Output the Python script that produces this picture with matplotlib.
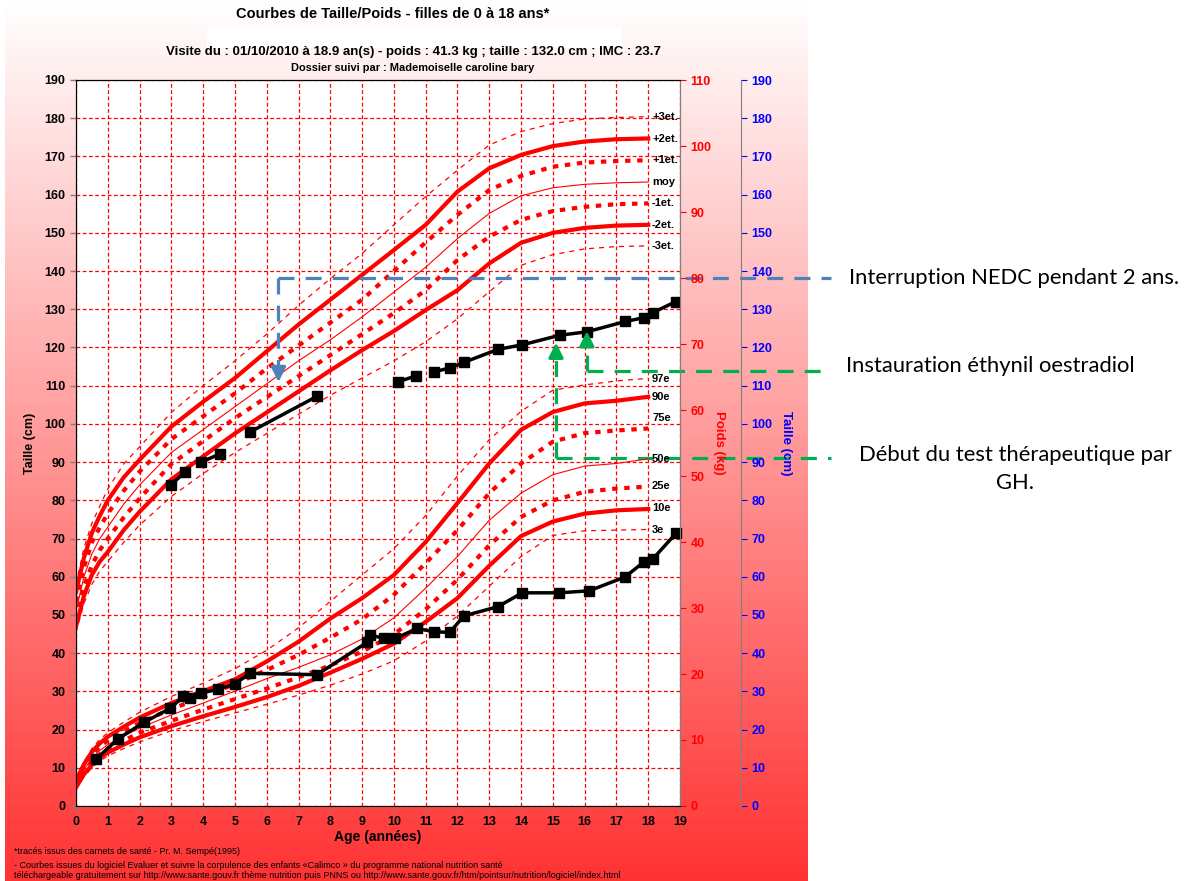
import numpy as np
import matplotlib
matplotlib.use('Agg')
import matplotlib.pyplot as plt
from matplotlib.patches import Rectangle

plt.rcParams['font.family'] = ['Liberation Sans', 'DejaVu Sans']

# ============================================================
# Données
# ============================================================
ages = [0, 0.25, 0.5, 0.75, 1, 1.5, 2, 3, 4, 5, 6, 7, 8, 9, 10, 11, 12, 13, 14, 15, 16, 17, 18]

# taille (cm) : courbes de référence
taille_m3 = [45.5, 53, 58, 61.5, 64, 69, 73.5, 81, 87, 92.5, 97.5, 102.5, 107.5, 112, 116.5, 121.5, 127.5, 134.6, 141.5, 144.3, 145.8, 146.4, 146.6]
taille_m2 = [47, 55, 60.5, 64, 66.5, 72.2, 77, 85.5, 91.5, 97.5, 103, 108.5, 114, 119.3, 124.3, 129.8, 135, 142, 147.4, 150, 151.3, 151.9, 152.1]
taille_m1 = [49, 57.5, 63, 67, 70, 75.5, 80.5, 89.5, 95.5, 101.5, 107, 112.5, 118, 123.5, 129, 135, 142.9, 149, 153.4, 155.7, 156.8, 157.5, 157.7]
taille_moy = [51, 60, 66, 70, 73, 79, 84, 92.5, 98.5, 104.5, 110.5, 116.5, 122, 128, 134.5, 141, 148.5, 155.1, 159.7, 161.8, 162.7, 163.1, 163.3]
taille_p1 = [53.5, 62.5, 69, 73, 76.5, 82.5, 87.5, 96, 102, 108, 114.5, 120.5, 126.5, 132.5, 140, 147.5, 154.7, 161.2, 164.9, 167.3, 168.4, 168.8, 169]
taille_p2 = [56, 65, 71.5, 76, 80, 86, 90.6, 99.3, 105.8, 112, 119, 126, 132.5, 139, 145.5, 152.1, 160.8, 166.9, 170.4, 172.7, 173.9, 174.5, 174.7]
taille_p3 = [58, 67.5, 74, 78.5, 83, 89.5, 94, 103, 110, 116.5, 123.5, 131, 138, 144.6, 152.1, 159.5, 166.4, 173, 176.5, 178.6, 179.8, 180.2, 180.4]

# poids (kg) : percentiles de référence
poids_p3 = [2.6, 4.4, 5.8, 6.8, 7.6, 8.7, 9.7, 11.4, 12.8, 14.1, 15.4, 16.8, 18.3, 20.0, 22.0, 25.0, 28.8, 33.3, 37.8, 41.0, 41.7, 41.8, 41.9]
poids_p10 = [2.8, 4.8, 6.2, 7.3, 8.1, 9.3, 10.4, 12.1, 13.6, 15.0, 16.5, 18.2, 20.2, 22.3, 24.6, 27.9, 31.5, 36.4, 40.9, 43.1, 44.3, 44.8, 45.0]
poids_p25 = [3.0, 5.1, 6.7, 7.8, 8.7, 9.9, 11.1, 12.9, 14.6, 16.2, 17.8, 19.5, 21.3, 23.4, 26.0, 29.8, 34.3, 39.5, 43.8, 46.3, 47.6, 48.1, 48.4]
poids_p50 = [3.3, 5.5, 7.2, 8.4, 9.3, 10.6, 11.8, 13.8, 15.6, 17.4, 19.3, 21.0, 22.9, 25.3, 28.5, 33.0, 37.8, 43.3, 47.4, 50.2, 51.5, 51.9, 52.6]
poids_p75 = [3.6, 5.9, 7.7, 9.0, 9.9, 11.3, 12.6, 14.7, 16.5, 18.5, 20.6, 22.9, 25.5, 28.3, 32.0, 36.8, 41.8, 47.4, 51.9, 55.2, 56.5, 56.9, 57.2]
poids_p90 = [3.9, 6.3, 8.2, 9.5, 10.5, 12.0, 13.4, 15.6, 17.4, 19.2, 21.9, 24.9, 28.4, 31.5, 35.0, 40.0, 45.9, 51.9, 57.0, 59.7, 61.0, 61.4, 62.0]
poids_p97 = [4.2, 6.7, 8.7, 10.1, 11.1, 12.7, 14.2, 16.6, 18.6, 20.8, 23.6, 27.0, 31.0, 35.0, 39.0, 44.0, 50.0, 55.5, 59.8, 63.0, 63.8, 64.4, 64.8]

# mesures de la patiente (nan = interruption du tracé)
nan = float('nan')
mes_taille_age = [2.98, 3.43, nan, 3.93, 4.52, nan, 5.48, 7.58, nan, 10.12, 10.71, nan,
                  11.26, 11.78, 12.2, 13.27, 14.04, 15.22, 16.07, 17.28, 17.87, 18.14, 18.87]
mes_taille = [84.1, 87.3, nan, 90.0, 92.1, nan, 97.9, 107.2, nan, 111.0, 112.6, nan,
              113.6, 114.7, 116.1, 119.5, 120.7, 123.2, 124.1, 126.8, 127.8, 129.1, 132.0]

mes_poids_age = [0.63, 1.33, 2.15, 2.96, 3.38, 3.59, 3.93, 4.48, 4.99, 5.48, 7.58, 9.16, 9.26,
                 9.68, 10.05, 10.73, 11.26, 11.76, 12.2, 13.27, 14.04, 15.2, 16.14, 17.27,
                 17.87, 18.14, 18.87]
mes_poids = [7.1, 10.2, 12.7, 14.8, 16.6, 16.3, 17.1, 17.7, 18.5, 20.1, 19.9, 24.8, 25.9,
             25.4, 25.4, 26.9, 26.4, 26.3, 28.8, 30.2, 32.3, 32.3, 32.6, 34.7, 37.0, 37.4, 41.3]

labels_taille = ['+3et.', '+2et.', '+1et.', 'moy', '-1et.', '-2et.', '-3et.']
labels_taille_y = [180.4, 174.6, 169.1, 163.3, 157.8, 152.1, 146.6]
labels_poids = ['97e', '90e', '75e', '50e', '25e', '10e', '3e']
labels_poids_y = [64.7, 62.0, 58.8, 52.6, 48.5, 45.2, 41.8]

# ============================================================
# Figure
# ============================================================
W, H = 1186, 881
fig = plt.figure(figsize=(W / 100, H / 100), dpi=100)

# fond dégradé blanc -> rouge
bg = fig.add_axes([0, 0, 1, 1], zorder=-10)
bg.set_xlim(0, W)
bg.set_ylim(H, 0)
bg.axis('off')
grad = np.linspace(0, 1, 256)[:, None]
cols = np.ones((256, 1, 3))
cols[:, 0, 1] = 1 - 0.80 * grad[:, 0]
cols[:, 0, 2] = 1 - 0.80 * grad[:, 0]
bg.imshow(cols, extent=[5, 808, H, 0], aspect='auto')
bg.add_patch(Rectangle((207, 28), 415, 20, color='white', lw=0))

ax = fig.add_axes([76 / W, 1 - 806 / H, 604 / W, 726 / H])
ax.set_facecolor('white')
ax.set_xlim(0, 19)
ax.set_ylim(0, 190)
ax.set_xticks(range(0, 20))
ax.set_yticks(range(0, 191, 10))
ax.grid(True, color='#ff0000', linestyle=(0, (3, 2)), linewidth=0.9)
ax.set_axisbelow(True)
for s in ax.spines.values():
    s.set_color('#808080')
ax.tick_params(labelsize=9, width=1, color='#808080', length=4)
for lbl in ax.get_xticklabels() + ax.get_yticklabels():
    lbl.set_fontweight('bold')
ax.set_xlabel('Age (années)', fontsize=10, fontweight='bold', labelpad=1)
ax.set_ylabel('Taille (cm)', fontsize=9, fontweight='bold', labelpad=6)

ax2 = ax.twinx()
ax2.set_ylim(0, 110)
ax2.set_yticks(range(0, 111, 10))
ax2.tick_params(labelsize=9, colors='#ff0000', length=4)
for lbl in ax2.get_yticklabels():
    lbl.set_fontweight('bold')
for s in ax2.spines.values():
    s.set_color('#808080')
ax2.set_ylabel('Poids (kg)', color='#ff0000', fontsize=9.5, fontweight='bold',
               rotation=270, labelpad=10)

ax3 = ax.twinx()
ax3.set_ylim(0, 190)
ax3.set_yticks(range(0, 191, 10))
ax3.spines['right'].set_position(('axes', 1.101))
ax3.spines['right'].set_color('#808080')
ax3.tick_params(labelsize=9, colors='#0000ff', length=4)
for lbl in ax3.get_yticklabels():
    lbl.set_fontweight('bold')
ax3.set_ylabel('Taille (cm)', color='#0000ff', fontsize=9.5, fontweight='bold',
               rotation=270, labelpad=14)

red = '#ff0000'
styles = [
    dict(lw=0.9, ls=(0, (4, 4))),
    dict(lw=3.0, ls='-'),
    dict(lw=3.0, ls=(0, (1.3, 1.6))),
    dict(lw=0.8, ls='-'),
    dict(lw=3.0, ls=(0, (1.3, 1.6))),
    dict(lw=3.0, ls='-'),
    dict(lw=0.9, ls=(0, (4, 4))),
]

for curve, st in zip([taille_p3, taille_p2, taille_p1, taille_moy, taille_m1, taille_m2, taille_m3], styles):
    ax.plot(ages, curve, color=red, linewidth=st['lw'], linestyle=st['ls'])

for curve, st in zip([poids_p97, poids_p90, poids_p75, poids_p50, poids_p25, poids_p10, poids_p3], styles):
    ax2.plot(ages, curve, color=red, linewidth=st['lw'], linestyle=st['ls'])

ax.plot(mes_taille_age, mes_taille, 's-', color='black', linewidth=2.5, markersize=7)
ax2.plot(mes_poids_age, mes_poids, 's-', color='black', linewidth=2.5, markersize=7,
         clip_on=False)

for t, y in zip(labels_taille, labels_taille_y):
    ax.text(18.12, y, t, fontsize=8, fontweight='bold', va='center')
for t, y in zip(labels_poids, labels_poids_y):
    ax2.text(18.12, y, t, fontsize=8, fontweight='bold', va='center', clip_on=True)

# ============================================================
# Annotations (traitements)
# ============================================================
blue = '#4f81bd'
green = '#00b050'
dash = (0, (5, 3.5))

ax.plot([6.37, 23.75], [138.2, 138.2], color=blue, lw=2.3, ls=dash, clip_on=False)
ax.plot([6.37, 6.37], [138.2, 114], color=blue, lw=2.3, ls=dash)
ax.annotate('', xy=(6.37, 110.2), xytext=(6.37, 114.5),
            arrowprops=dict(arrowstyle='-|>', color=blue, lw=2.3, mutation_scale=22))

ax.plot([16.07, 23.75], [113.8, 113.8], color=green, lw=2.3, ls=dash, clip_on=False)
ax.plot([16.07, 16.07], [113.8, 121], color=green, lw=2.3, ls=dash)
ax.annotate('', xy=(16.07, 125.0), xytext=(16.07, 121.0),
            arrowprops=dict(arrowstyle='-|>', color=green, lw=2.3, mutation_scale=22))

ax.plot([15.1, 23.75], [91.0, 91.0], color=green, lw=2.3, ls=dash, clip_on=False)
ax.plot([15.1, 15.1], [91.0, 118], color=green, lw=2.3, ls=dash)
ax.annotate('', xy=(15.1, 122.0), xytext=(15.1, 118.0),
            arrowprops=dict(arrowstyle='-|>', color=green, lw=2.3, mutation_scale=22))

note_font = ['Lato', 'DejaVu Sans']
fig.text(849 / W, 1 - 278 / H, 'Interruption NEDC pendant 2 ans.', fontsize=15.8,
         family=note_font, va='center', ha='left')
fig.text(846 / W, 1 - 366 / H, 'Instauration éthynil oestradiol', fontsize=15.8,
         family=note_font, va='center', ha='left')
fig.text(1015 / W, 1 - 469 / H, 'Début du test thérapeutique par\nGH.', fontsize=15.8,
         family=note_font, va='center', ha='center', linespacing=1.45)

# ============================================================
# Titres et notes
# ============================================================
fig.text(393 / W, 1 - 14 / H, 'Courbes de Taille/Poids - filles de 0 à 18 ans*',
         fontsize=10.5, fontweight='bold', ha='center', va='center')
fig.text(414 / W, 1 - 52 / H,
         'Visite du : 01/10/2010 à 18.9 an(s) - poids : 41.3 kg ; taille : 132.0 cm ; IMC : 23.7',
         fontsize=9.5, fontweight='bold', ha='center', va='center')
fig.text(413 / W, 1 - 68 / H, 'Dossier suivi par : Mademoiselle caroline bary',
         fontsize=7.9, fontweight='bold', ha='center', va='center')

fig.text(14 / W, 1 - 852 / H, '*tracés issus des carnets de santé - Pr. M. Sempé(1995)',
         fontsize=6.5, ha='left', va='center')
fig.text(14 / W, 1 - 865 / H,
         '- Courbes issues du logiciel Evaluer et suivre la corpulence des enfants «Calimco » du programme national nutrition santé',
         fontsize=6.5, ha='left', va='center')
fig.text(14 / W, 1 - 880 / H,
         'téléchargeable gratuitement sur http://www.sante.gouv.fr thème nutrition puis PNNS ou http://www.sante.gouv.fr/htm/pointsur/nutrition/logiciel/index.html',
         fontsize=6.5, ha='left', va='bottom')

fig.savefig('out.png', dpi=100)
